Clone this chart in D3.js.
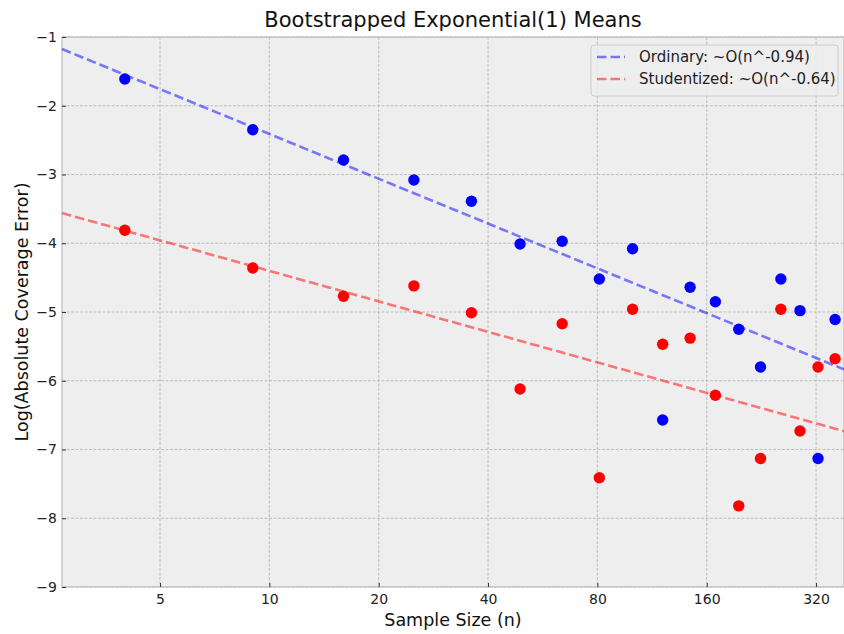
<!DOCTYPE html>
<html>
<head>
<meta charset="utf-8">
<script src="https://cdn.jsdelivr.net/npm/d3@7"></script>
<style>
  body { margin: 0; background: #fff; }
  svg { font-family: "DejaVu Sans", sans-serif; display: block; }
</style>
</head>
<body>
<svg width="844" height="634"></svg>
<script>
const width = 844;
const height = 634;
const margin = { top: 37, right: 0, bottom: 47, left: 62 };

// sample sizes n = 2^2 .. 19^2
const sampleSizes = [4, 9, 16, 25, 36, 49, 64, 81, 100, 121, 144, 169, 196, 225, 256, 289, 324, 361];
const ordinaryErr = [-1.61, -2.35, -2.79, -3.08, -3.39, -4.01, -3.97, -4.52, -4.08, -6.57,
                     -4.64, -4.85, -5.25, -5.80, -4.52, -4.98, -7.13, -5.11];
const studentErr = [-3.81, -4.36, -4.77, -4.62, -5.01, -6.12, -5.17, -7.41, -4.96, -5.47,
                    -5.38, -6.21, -7.82, -7.13, -4.96, -6.73, -5.80, -5.68];

// fitted lines: y = a + b * ln(n)
const fitNames = ['Ordinary: ~O(n^-0.94)', 'Studentized: ~O(n^-0.64)'];
const fitIntercepts = [-0.246, -2.928];
const fitSlopes = [-0.94, -0.64];

const xTicks = [5, 10, 20, 40, 80, 160, 320];
const yTicks = [-9, -8, -7, -6, -5, -4, -3, -2, -1];
const xDomain = [2.686, 382];

const svg = d3.select('svg');
const x0 = margin.left, x1 = width - margin.right;
const y0 = margin.top, y1 = height - margin.bottom;

const x = d3.scaleLog().base(2).domain(xDomain).range([x0, x1]);
const y = d3.scaleLinear().domain([-9, -1]).range([y1, y0]);

svg.append('rect')
  .attr('x', x0).attr('y', y0)
  .attr('width', x1 - x0).attr('height', y1 - y0)
  .attr('fill', '#eeeeee');

// grid
svg.append('g').selectAll('line')
  .data(xTicks).enter().append('line')
  .attr('x1', d => x(d)).attr('x2', d => x(d))
  .attr('y1', y0).attr('y2', y1)
  .attr('stroke', '#b2b2b2').attr('stroke-width', 0.8)
  .attr('stroke-dasharray', '3,1.5');

svg.append('g').selectAll('line')
  .data(yTicks).enter().append('line')
  .attr('x1', x0).attr('x2', x1)
  .attr('y1', d => y(d)).attr('y2', d => y(d))
  .attr('stroke', '#b2b2b2').attr('stroke-width', 0.8)
  .attr('stroke-dasharray', '3,1.5');

// frame
svg.append('rect')
  .attr('x', x0).attr('y', y0)
  .attr('width', x1 - x0).attr('height', y1 - y0)
  .attr('fill', 'none').attr('stroke', '#bcbcbc').attr('stroke-width', 1.2);

// axes
const fmtMinus = d => d3.format('d')(d).replace('-', '\u2212');
const xAxis = svg.append('g')
  .attr('transform', `translate(0,${y1})`)
  .call(d3.axisBottom(x).tickValues(xTicks).tickFormat(d3.format('d')).tickSizeInner(-4).tickSizeOuter(0).tickPadding(7));
const yAxis = svg.append('g')
  .attr('transform', `translate(${x0},0)`)
  .call(d3.axisLeft(y).tickValues(yTicks).tickFormat(fmtMinus).tickSizeInner(-4).tickSizeOuter(0).tickPadding(5));

[xAxis, yAxis].forEach(a => {
  a.select('.domain').remove();
  a.selectAll('.tick line').attr('stroke', '#333').attr('stroke-width', 1);
  a.selectAll('.tick text').attr('font-size', 14).attr('fill', '#222')
    .attr('font-family', '"DejaVu Sans", sans-serif');
});

// fit lines
const colors = ['#0000ff', '#ff0000'];
const fitColors = ['rgba(0,0,255,0.5)', 'rgba(255,0,0,0.5)'];
const line = d3.line().x(d => x(d[0])).y(d => y(d[1]));
const xs = d3.range(0, 101).map(i => xDomain[0] * Math.pow(xDomain[1] / xDomain[0], i / 100));

fitIntercepts.forEach((a, i) => {
  svg.append('path')
    .datum(xs.map(n => [n, a + fitSlopes[i] * Math.log(n)]))
    .attr('d', line)
    .attr('fill', 'none')
    .attr('stroke', fitColors[i])
    .attr('stroke-width', 2.6)
    .attr('stroke-dasharray', '9.5,4');
});

// points
[ordinaryErr, studentErr].forEach((vals, i) => {
  svg.append('g').selectAll('circle')
    .data(vals).enter().append('circle')
    .attr('cx', (d, j) => x(sampleSizes[j]))
    .attr('cy', d => y(d))
    .attr('r', 5.7)
    .attr('fill', colors[i]);
});

// title & labels
svg.append('text')
  .attr('x', (x0 + x1) / 2).attr('y', 27)
  .attr('text-anchor', 'middle').attr('font-size', 21).attr('fill', '#111')
  .text('Bootstrapped Exponential(1) Means');

svg.append('text')
  .attr('x', (x0 + x1) / 2).attr('y', 626)
  .attr('text-anchor', 'middle').attr('font-size', 17.5).attr('fill', '#111')
  .text('Sample Size (n)');

svg.append('text')
  .attr('transform', `translate(28,${(y0 + y1) / 2}) rotate(-90)`)
  .attr('text-anchor', 'middle').attr('font-size', 17.5).attr('fill', '#111')
  .text('Log(Absolute Coverage Error)');

// legend
const lg = svg.append('g').attr('transform', 'translate(591,45)');
lg.append('rect')
  .attr('width', 247).attr('height', 51).attr('rx', 3)
  .attr('fill', 'rgba(238,238,238,0.8)').attr('stroke', '#cccccc').attr('stroke-width', 1);

fitNames.forEach((name, i) => {
  const ly = 12 + i * 22;
  lg.append('line')
    .attr('x1', 6).attr('x2', 34).attr('y1', ly).attr('y2', ly)
    .attr('stroke', fitColors[i]).attr('stroke-width', 2.6)
    .attr('stroke-dasharray', '9.5,4');
  lg.append('text')
    .attr('x', 48).attr('y', ly + 5)
    .attr('font-size', 15).attr('fill', '#222')
    .text(name);
});
</script>
</body>
</html>
